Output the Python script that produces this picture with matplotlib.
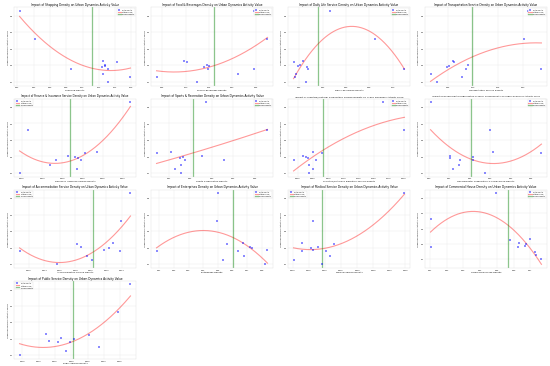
import numpy as np
import matplotlib
matplotlib.use("Agg")
import matplotlib.pyplot as plt

# Shared response variable (same 12 observations in every panel)
activity = [0.530, 0.362, 0.228, 0.222, 0.202, 0.196, 0.188, 0.178, 0.178, 0.148, 0.126, 0.098]

names = [
    "Shopping Density",
    "Food & Beverages Density",
    "Daily Life Service Density",
    "Transportation Service Density",
    "Finance & Insurance Service Density",
    "Sports & Recreation Density",
    "Scientific/Cultural & Education Service Density",
    "Governmental Organization & Social Group Density",
    "Accommodation Service Density",
    "Enterprises Density",
    "Medical Service Density",
    "Commercial House Density",
    "Public Service Density",
]

shopping = [0.0228, 0.0420, 0.1248, 0.1424, 0.1272, 0.1280, 0.1240, 0.1312, 0.0860, 0.1252, 0.1588, 0.1312]
food = [0.2472, 0.2753, 0.0958, 0.1028, 0.1451, 0.1507, 0.1401, 0.1486, 0.2472, 0.2120, 0.0373, 0.1239]
daily = [0.0459, 0.0848, 0.0234, 0.0149, 0.0206, 0.0186, 0.0265, 0.0270, 0.1101, 0.0172, 0.0158, 0.0256]
transport = [0.2091, 0.2013, 0.0597, 0.0617, 0.0909, 0.0532, 0.0481, 0.0857, 0.2363, 0.0156, 0.0773, 0.0292]
finance = [0.0318, 0.0066, 0.0236, 0.0206, 0.0163, 0.0181, 0.0188, 0.0196, 0.0133, 0.0120, 0.0185, 0.0044]
sports = [0.0270, 0.0558, 0.0108, 0.0042, 0.0252, 0.0165, 0.0153, 0.0355, 0.0173, 0.0156, 0.0127, 0.0158]
science = [0.1645, 0.2005, 0.0500, 0.0651, 0.0339, 0.0376, 0.0409, 0.0177, 0.0543, 0.0435, 0.0500, 0.0430]
government = [0.0008, 0.0298, 0.0313, 0.0551, 0.0103, 0.0214, 0.0103, 0.0214, 0.0151, 0.0148, 0.0116, 0.0275]
accommodation = [0.0151, 0.0139, 0.0129, 0.0082, 0.0087, 0.0123, 0.0117, 0.0008, 0.0138, 0.0095, 0.0101, 0.0056]
enterprises = [0.0500, 0.0496, 0.0673, 0.0562, 0.0722, 0.0733, 0.0838, 0.0082, 0.0640, 0.0678, 0.0533, 0.0818]
medical = [0.0347, 0.0064, 0.0028, 0.0128, 0.0077, 0.0056, 0.0061, 0.0027, 0.0104, 0.0115, 0.0002, 0.0090]
commercial = [0.0492, 0.0104, 0.0698, 0.0580, 0.0629, 0.0674, 0.0670, 0.0103, 0.0625, 0.0727, 0.0731, 0.0766]
public = [0.0382, 0.0344, 0.0121, 0.0253, 0.0168, 0.0209, 0.0132, 0.0197, 0.0159, 0.0285, 0.0185, 0.0041]

series = [shopping, food, daily, transport, finance, sports, science, government,
          accommodation, enterprises, medical, commercial, public]

legend_locs = ['upper right', 'upper right', 'upper right', 'upper right',
               'upper left', 'upper right', 'upper right', 'upper right',
               'upper left', 'upper right', 'upper left', 'upper right',
               'upper left']

plt.rcParams['font.family'] = ['DejaVu Sans']
fig, axes = plt.subplots(4, 4, figsize=(24, 16), dpi=550 / 24)
fig.subplots_adjust(left=0.0255, right=0.9945, top=0.978, bottom=0.019,
                    wspace=0.123, hspace=0.167)

y = np.array(activity)
titles = []
for i, ax in enumerate(axes.flat):
    if i >= len(series):
        ax.axis('off')
        continue
    x = np.array(series[i])
    ax.set_facecolor('white')
    ax.grid(True, color='#e3e3e3', linewidth=1.0)
    ax.set_axisbelow(True)
    for s in ax.spines.values():
        s.set_color('#cccccc')
    ax.scatter(x, y, color='blue', alpha=0.45, s=34, marker='s', linewidths=0,
               label='Data points', zorder=3)
    coef = np.polyfit(x, y, 2)
    xs = np.linspace(x.min(), x.max(), 200)
    ax.plot(xs, np.polyval(coef, xs), color='red', alpha=0.4, linewidth=3.5,
            label='Fitted curve')
    ax.axvline(x.mean(), color='green', alpha=0.45, linewidth=4, label='Mean Density')
    t = ax.set_title(f"Impact of {names[i]} on Urban Dynamics Activity Value", fontsize=9)
    titles.append((ax, t))
    ax.set_xlabel(names[i], fontsize=7)
    ax.set_ylabel("Urban Dynamics Activity Value", fontsize=7)
    ax.tick_params(labelsize=6, length=0)
    ax.legend(fontsize=5.5, loc=legend_locs[i], frameon=True)

# shrink long titles so they stay within their panel
fig.canvas.draw()
renderer = fig.canvas.get_renderer()
for ax, t in titles:
    axw = ax.get_window_extent(renderer).width
    tw = t.get_window_extent(renderer).width
    limit = axw * 0.86
    if tw > limit:
        t.set_fontsize(9 * limit / tw)

fig.savefig("out.png", dpi=550 / 24)
